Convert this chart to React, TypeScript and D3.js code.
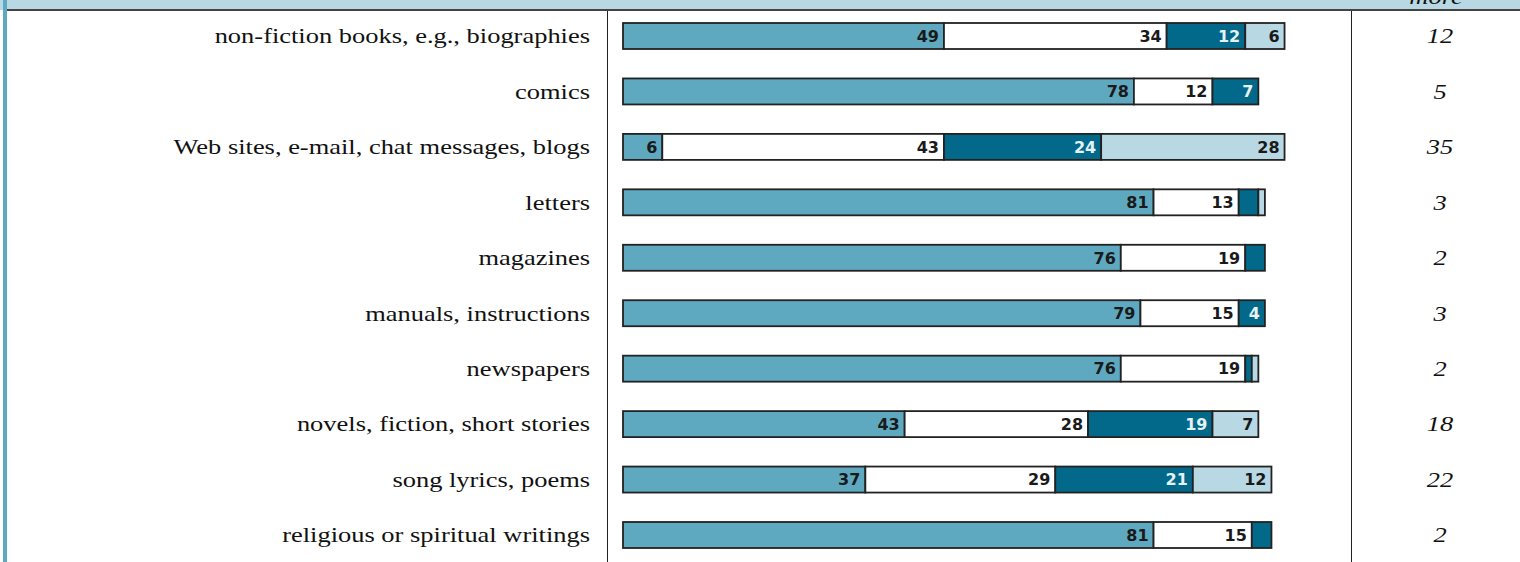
import React from "react";
import * as d3 from "d3";

const categories = [
  "non-fiction books, e.g., biographies",
  "comics",
  "Web sites, e-mail, chat messages, blogs",
  "letters",
  "magazines",
  "manuals, instructions",
  "newspapers",
  "novels, fiction, short stories",
  "song lyrics, poems",
  "religious or spiritual writings",
];
const series1 = [49, 78, 6, 81, 76, 79, 76, 43, 37, 81];
const series2 = [34, 12, 43, 13, 19, 15, 19, 28, 29, 15];
const series3 = [12, 7, 24, 3, 3, 4, 1, 19, 21, 3];
const series4 = [6, 0, 28, 1, 0, 0, 1, 7, 12, 0];
const moreValues = [12, 5, 35, 3, 2, 3, 2, 18, 22, 2];
const headerText = "more";

const W = 1520;
const H = 562;
const segFill = ["#5fa9c0", "#ffffff", "#02698a", "#b8d8e3"];
const segText = ["#1a1a1a", "#1a1a1a", "#e6f2f6", "#1a1a1a"];
const STRETCH = 1.26;

export default function App() {
  const x = d3.scaleLinear().domain([0, 100]).range([623, 1278]);
  const y = d3
    .scalePoint<number>()
    .domain(categories.map((_, i) => i))
    .range([36, 535]);
  const barH = 26;
  const series = [series1, series2, series3, series4];

  return (
    <svg
      width={W}
      height={H}
      style={{ position: "absolute", left: 0, top: 0, background: "#fff" }}
    >
      {/* header band */}
      <rect x={0} y={0} width={W} height={10} fill="#b8d8e4" />
      <line x1={7} x2={W} y1={10} y2={10} stroke="#444" strokeWidth={2} />
      <g transform={`translate(1436,4) scale(${STRETCH},1)`}>
        <text
          x={0}
          y={0}
          textAnchor="middle"
          fontFamily="'Liberation Serif', serif"
          fontStyle="italic"
          fontSize={21}
          fill="#111"
        >
          {headerText}
        </text>
      </g>
      {/* left stripe */}
      <rect x={3} y={0} width={4} height={H} fill="#5ca9c1" />
      {/* dividers */}
      <line x1={607.5} x2={607.5} y1={11} y2={H} stroke="#222" strokeWidth={1} />
      <line x1={1351.5} x2={1351.5} y1={11} y2={H} stroke="#222" strokeWidth={1} />

      {categories.map((cat, i) => {
        const cy = y(i) as number;
        let acc = 0;
        const segs = series.map((s, k) => {
          const v = s[i];
          const x0 = x(acc);
          acc += v;
          const x1 = x(acc);
          return { v, x0, x1, k };
        });
        return (
          <g key={cat}>
            <g transform={`translate(590,${cy}) scale(${STRETCH},1)`}>
              <text
                x={0}
                y={0}
                dy="0.35em"
                textAnchor="end"
                fontFamily="'Liberation Serif', serif"
                fontSize={21}
                fill="#111"
              >
                {cat}
              </text>
            </g>
            {segs
              .filter((s) => s.v > 0)
              .map((s) => (
                <rect
                  key={s.k}
                  x={s.x0}
                  y={cy - barH / 2}
                  width={s.x1 - s.x0}
                  height={barH}
                  fill={segFill[s.k]}
                  stroke="#222"
                  strokeWidth={1.8}
                />
              ))}
            {segs
              .filter((s) => s.v >= 4)
              .map((s) => (
                <text
                  key={"t" + s.k}
                  x={s.x1 - 5}
                  y={cy}
                  dy="0.36em"
                  textAnchor="end"
                  fontFamily="'DejaVu Sans', Verdana, sans-serif"
                  fontWeight="bold"
                  fontSize={16}
                  fill={segText[s.k]}
                >
                  {s.v}
                </text>
              ))}
            <g transform={`translate(1440,${cy}) scale(${STRETCH},1)`}>
              <text
                x={0}
                y={0}
                dy="0.35em"
                textAnchor="middle"
                fontFamily="'Liberation Serif', serif"
                fontStyle="italic"
                fontSize={21}
                fill="#111"
              >
                {moreValues[i]}
              </text>
            </g>
          </g>
        );
      })}
    </svg>
  );
}
